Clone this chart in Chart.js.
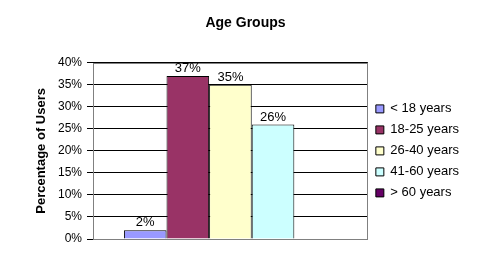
<!DOCTYPE html>
<html>
<head>
<meta charset="utf-8">
<script src="https://cdn.jsdelivr.net/npm/chart.js@4"></script>
<style>
  html, body { margin: 0; padding: 0; background: #fff; }
  #wrap { width: 495px; height: 265px; }
</style>
</head>
<body>
<div id="wrap"><canvas id="c" width="495" height="265"></canvas></div>
<script>
// chart data
const groups = ['< 18 years', '18-25 years', '26-40 years', '41-60 years', '> 60 years'];
const shares = [2, 37, 35, 26, 0];
const colors = ['#9999FF', '#993366', '#FFFFCC', '#CCFFFF', '#660066'];
const yTicks = [0, 5, 10, 15, 20, 25, 30, 35, 40];

const FONT = '"Liberation Sans", Arial, sans-serif';
Chart.defaults.font.family = FONT;
Chart.defaults.color = '#000';

// grey frame round the plot area
const plotFrame = {
    id: 'plotFrame',
    beforeDatasetsDraw(chart) {
        const a = chart.chartArea, ctx = chart.ctx;
        ctx.save();
        ctx.strokeStyle = '#808080';
        ctx.lineWidth = 1;
        ctx.strokeRect(Math.round(a.left) + 0.5, Math.round(a.top) + 0.5,
            Math.round(a.right - a.left) - 1, Math.round(a.bottom - a.top));
        ctx.restore();
    }
};

// value over each bar
const barValues = {
    id: 'barValues',
    afterDatasetsDraw(chart) {
        const ctx = chart.ctx;
        ctx.save();
        ctx.font = '13px ' + FONT;
        ctx.fillStyle = '#000';
        ctx.textAlign = 'center';
        ctx.textBaseline = 'bottom';
        chart.data.datasets.forEach((ds, i) => {
            chart.getDatasetMeta(i).data.forEach((bar, j) => {
                if (ds.data[j] > 0) ctx.fillText(ds.data[j] + '%', bar.x, bar.y - 1);
            });
        });
        ctx.restore();
    }
};

new Chart(document.getElementById('c'), {
    type: 'bar',
    data: {
        labels: [''],
        datasets: groups.map((g, i) => ({
            label: g,
            data: [shares[i]],
            backgroundColor: colors[i],
            borderColor: '#000',
            borderWidth: 1,
            categoryPercentage: 0.775,
            barPercentage: 1
        }))
    },
    options: {
        responsive: false,
        animation: false,
        layout: { padding: { left: 22, top: 0, right: 26, bottom: 26 } },
        plugins: {
            title: {
                display: true,
                text: 'Age Groups',
                font: { size: 14, weight: 'bold' },
                padding: { top: 15, bottom: 31 }
            },
            legend: {
                position: 'right',
                fullSize: false,
                labels: {
                    boxWidth: 8,
                    boxHeight: 8,
                    padding: 8,
                    font: { size: 13 }
                }
            },
            tooltip: { enabled: false }
        },
        scales: {
            x: { display: false },
            y: {
                min: 0,
                max: 40,
                afterBuildTicks: s => { s.ticks = yTicks.map(v => ({ value: v })); },
                afterFit: s => { s.width = 71; },
                ticks: {
                    callback: v => v + '%',
                    font: { size: 12 },
                    padding: 5
                },
                grid: { color: '#000', tickLength: 6 },
                border: { display: false },
                title: {
                    display: true,
                    text: 'Percentage of Users',
                    font: { size: 13, weight: 'bold' },
                    padding: { top: 12, bottom: 0 }
                }
            }
        }
    },
    plugins: [plotFrame, barValues]
});
</script>
</body>
</html>
